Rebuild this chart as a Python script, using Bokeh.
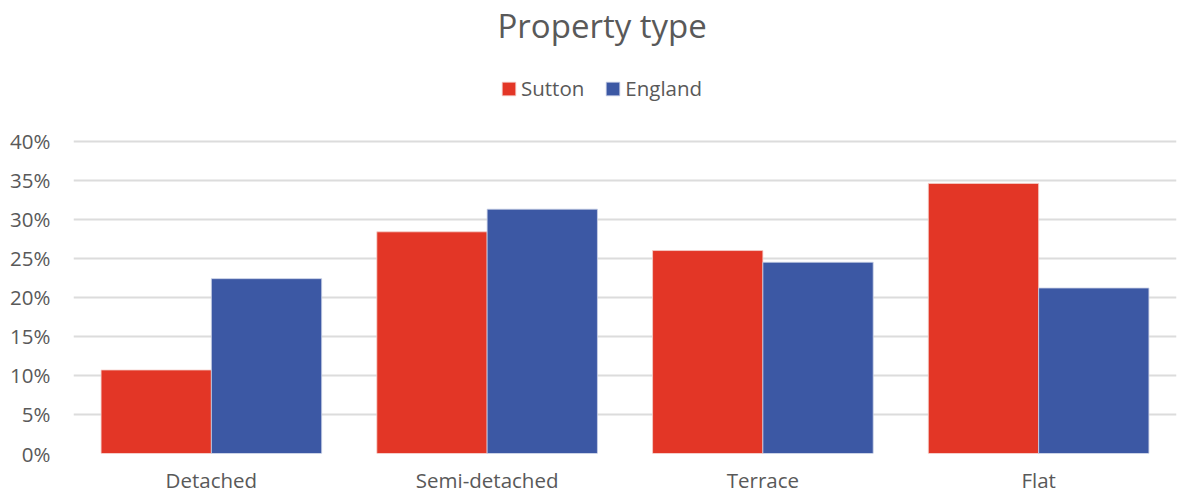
from bokeh.plotting import figure
from bokeh.models import ColumnDataSource, FactorRange, NumeralTickFormatter, Legend, LegendItem, FixedTicker, Range1d
from bokeh.transform import dodge
from bokeh.embed import file_html
from bokeh.resources import INLINE

categories = ["Detached", "Semi-detached", "Terrace", "Flat"]
sutton = [0.107, 0.284, 0.260, 0.346]
england = [0.224, 0.313, 0.245, 0.212]
series = ["Sutton", "England"]
colors = ["#E33626", "#3C58A4"]
y_ticks = [0.0, 0.05, 0.10, 0.15, 0.20, 0.25, 0.30, 0.35, 0.40]

FONT = "Open Sans"
TXT = "#595959"

# layout constants (figure pixels)
W, H = 1178, 497
T_TITLE = 46      # expected height of title panel
Y0 = 453          # pixel row of 0 %
Y40 = 140         # pixel row of 40 %
y_top = 0.4 * (Y0 - T_TITLE) / (Y0 - Y40)

src = ColumnDataSource(dict(cat=categories, sutton=sutton, england=england))

p = figure(width=W, height=H, x_range=FactorRange(*categories, range_padding=0),
           y_range=Range1d(0, y_top), output_backend="svg", toolbar_location=None,
           min_border_left=73, min_border_right=2, min_border_bottom=H - Y0, min_border_top=0)

r1 = p.vbar(x=dodge("cat", -0.2, range=p.x_range), top="sutton", width=0.4, source=src,
            fill_color=colors[0], line_color="#f4d0cc", line_width=0.8)
r2 = p.vbar(x=dodge("cat", 0.2, range=p.x_range), top="england", width=0.4, source=src,
            fill_color=colors[1], line_color="#c9d0e6", line_width=0.8)

p.title.text = "Property type"
p.title.align = "left"
p.title.offset = 424
p.title.text_font = FONT
p.title.text_font_size = "33px"
p.title.text_font_style = "normal"
p.title.text_color = TXT
p.title.standoff = 0

legend = Legend(items=[LegendItem(label=series[0], renderers=[r1]),
                       LegendItem(label=series[1], renderers=[r2])],
                orientation="horizontal", location=(427, Y0 - 102))
legend.label_text_font = FONT
legend.label_text_font_size = "20.5px"
legend.label_text_color = TXT
legend.glyph_width = 17
legend.glyph_height = 17
legend.label_standoff = 4
legend.spacing = 20
legend.border_line_color = None
legend.background_fill_alpha = 0
legend.margin = 0
legend.padding = 0
p.add_layout(legend, "center")

p.outline_line_color = None
p.xgrid.grid_line_color = None
p.ygrid.grid_line_color = "#dcdcdc"
p.ygrid.grid_line_width = 2
p.yaxis.ticker = FixedTicker(ticks=y_ticks)
p.yaxis.formatter = NumeralTickFormatter(format="0%")
for ax in (p.xaxis, p.yaxis):
    ax.axis_line_color = None
    ax.major_tick_line_color = None
    ax.minor_tick_line_color = None
    ax.major_tick_out = 0
    ax.major_tick_in = 0
    ax.major_label_text_font = FONT
    ax.major_label_text_font_size = "20.5px"
    ax.major_label_text_color = TXT
p.yaxis.major_label_standoff = 23
p.xaxis.major_label_standoff = 12

open("out.html", "w").write(file_html(p, INLINE))
